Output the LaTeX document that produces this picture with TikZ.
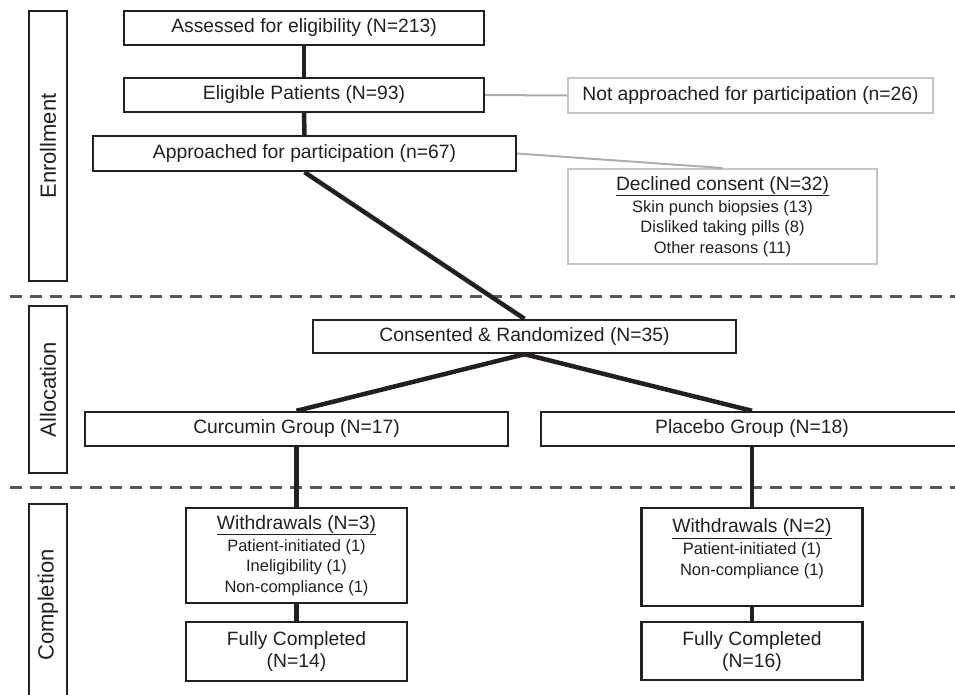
\documentclass[tikz,border=0pt]{standalone}
\usepackage{fontspec}
\setmainfont{Liberation Sans}
\newcommand\bigtxt{\fontsize{19.3}{22}\selectfont}
\newcommand\smalltxt{\fontsize{16.5}{20.5}\selectfont}
\newcommand\sidetxt{\fontsize{22}{26}\selectfont}
\definecolor{ink}{HTML}{231F20}
\definecolor{boxgrey}{HTML}{C6C6C6}
\definecolor{linkgrey}{HTML}{ADADAD}
\definecolor{dashgrey}{HTML}{585858}
\tikzset{
  flowbox/.style={draw=ink, line width=2.4pt, inner sep=0pt, align=center, text=ink, font=\bigtxt},
  greybox/.style={draw=boxgrey, line width=2pt, inner sep=0pt, align=center, text=ink, font=\bigtxt},
  sidebox/.style={draw=ink, line width=2.4pt, rotate=90, minimum height=38pt, inner sep=0pt, text=ink, font=\sidetxt},
  link/.style={draw=ink, line width=4.5pt},
  greylink/.style={draw=linkgrey, line width=2pt},
  split/.style={draw=dashgrey, line width=3pt, dash pattern=on 12pt off 8pt}
}
\begin{document}
\begin{tikzpicture}[x=1pt,y=-1pt]
\useasboundingbox (0,0) rectangle (955,694);
\clip (0,0) rectangle (955,694);
\draw [split] (10,296) -- (955,296) ;
\draw [split] (10,487) -- (955,487) ;
\node [sidebox, minimum width=270pt] (enroll) at (48,146) {Enrollment};
\node [sidebox, minimum width=167pt] (alloc) at (48,389.5) {Allocation};
\node [sidebox, minimum width=202pt] (complete) at (48,605) {Completion};
\node [flowbox, minimum width=360pt, minimum height=34pt] (assessed) at (304,28) {Assessed for eligibility (N=213)};
\node [flowbox, minimum width=360pt, minimum height=34pt] (eligible) at (304,95) {Eligible Patients (N=93)};
\node [flowbox, minimum width=423pt, minimum height=35pt] (approached) at (304.5,153.5) {Approached for participation (n=67)};
\node [greybox, minimum width=365pt, minimum height=35pt] (notapp) at (750.5,95.5) {Not approached for participation (n=26)};
\node [greybox, font=\smalltxt, minimum width=309pt, minimum height=95pt] (declined) at (722.5,216.5)
  {{\bigtxt\underline{Declined consent (N=32)}}\\[1.5pt] Skin punch biopsies (13)\\ Disliked taking pills (8)\\ Other reasons (11)};
\node [flowbox, minimum width=423pt, minimum height=33pt] (consented) at (524.5,336.5) {Consented \& Randomized (N=35)};
\node [flowbox, minimum width=423pt, minimum height=34pt] (curcumin) at (296.5,429) {Curcumin Group (N=17)};
\node [flowbox, minimum width=422pt, minimum height=34pt] (placebo) at (752,429) {Placebo Group (N=18)};
\node [flowbox, font=\smalltxt, minimum width=221pt, minimum height=95pt] (wdcurc) at (296.5,555.5)
  {{\bigtxt\underline{Withdrawals (N=3)}}\\[1.5pt] Patient-initiated (1)\\ Ineligibility (1)\\ Non-compliance (1)};
\node [flowbox, font=\smalltxt, minimum width=221pt, minimum height=98pt] (wdplac) at (752,557)
  {{\bigtxt\underline{Withdrawals (N=2)}}\\[1.5pt] Patient-initiated (1)\\ Non-compliance (1)\\ \mbox{}};
\node [flowbox, minimum width=221pt, minimum height=59pt] (donecurc) at (296.5,651.5) {Fully Completed\\ (N=14)};
\node [flowbox, minimum width=221pt, minimum height=58pt] (doneplac) at (752,651) {Fully Completed\\ (N=16)};
\draw [link] (assessed.south) -- (eligible.north) ;
\draw [link] (eligible.south) -- (approached.north) ;
\draw [greylink] (eligible.east) -- (notapp.west) ;
\draw [greylink] (approached.east) -- (declined.north) ;
\draw [link] (approached.south) -- (consented.north) ;
\draw [link] (consented.south) -- (curcumin.north) ;
\draw [link] (consented.south) -- (placebo.north) ;
\draw [link] (curcumin.south) -- (wdcurc.north) ;
\draw [link] (placebo.south) -- (wdplac.north) ;
\draw [link] (wdcurc.south) -- (donecurc.north) ;
\draw [link] (wdplac.south) -- (doneplac.north) ;
\end{tikzpicture}
\end{document}
